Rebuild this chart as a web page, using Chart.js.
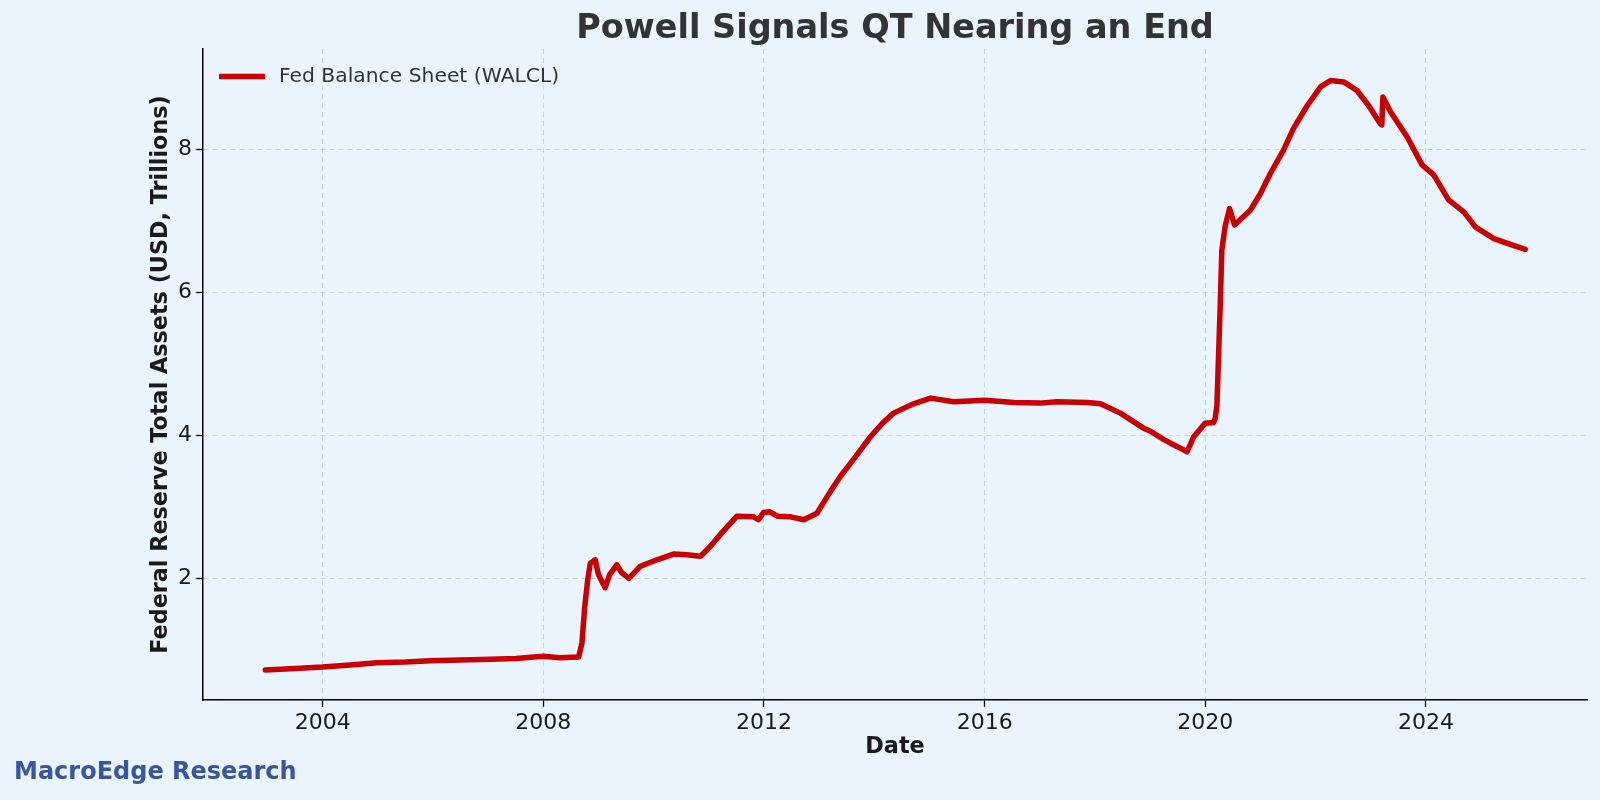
<!DOCTYPE html>
<html>
<head>
<meta charset="utf-8">
<script src="https://cdn.jsdelivr.net/npm/chart.js@4/dist/chart.umd.min.js"></script>
<style>
html,body{margin:0;padding:0;background:#eaf4ff;}
canvas{display:block;}
</style>
</head>
<body>
<canvas id="c" width="1600" height="800"></canvas>
<script>
// ---- data (decimal year, USD trillions) ----
const years = [
  2002.96, 2003.5, 2004.0, 2004.5, 2004.98, 2005.5, 2005.95, 2006.5, 2007.04, 2007.5, 2008.0, 2008.3, 2008.64,
  2008.70, 2008.75, 2008.80, 2008.85, 2008.94, 2009.0, 2009.12, 2009.2, 2009.33, 2009.42, 2009.55, 2009.76,
  2010.06, 2010.36, 2010.60, 2010.85, 2011.03, 2011.25, 2011.51, 2011.81, 2011.90, 2011.99, 2012.11, 2012.24,
  2012.48, 2012.72, 2012.96, 2013.20, 2013.38, 2013.62, 2013.93, 2014.15, 2014.35, 2014.71, 2015.02, 2015.44,
  2016.0, 2016.53, 2017.01, 2017.31, 2017.86, 2018.10, 2018.46, 2018.88, 2019.0, 2019.25, 2019.37, 2019.55, 2019.67,
  2019.79, 2020.0, 2020.15, 2020.18, 2020.21, 2020.24, 2020.27, 2020.30, 2020.36, 2020.44, 2020.53, 2020.82,
  2021.0, 2021.18, 2021.42, 2021.60, 2021.85, 2022.09, 2022.27, 2022.51, 2022.75, 2022.96, 2023.17, 2023.20,
  2023.22, 2023.36, 2023.66, 2023.93, 2024.14, 2024.41, 2024.69, 2024.90, 2025.23, 2025.53, 2025.80
];
const assets = [
  0.72, 0.74, 0.76, 0.79, 0.82, 0.83, 0.85, 0.86, 0.87, 0.88, 0.91, 0.89, 0.90,
  1.10, 1.60, 1.95, 2.21, 2.26, 2.05, 1.87, 2.05, 2.19, 2.08, 2.00, 2.17,
  2.26, 2.34, 2.33, 2.31, 2.45, 2.65, 2.87, 2.86, 2.82, 2.92, 2.93, 2.87,
  2.86, 2.82, 2.91, 3.21, 3.42, 3.66, 3.98, 4.17, 4.31, 4.44, 4.52, 4.47,
  4.49, 4.46, 4.45, 4.47, 4.46, 4.44, 4.31, 4.10, 4.06, 3.94, 3.89, 3.82, 3.77,
  3.98, 4.17, 4.18, 4.24, 4.40, 5.10, 5.80, 6.59, 6.92, 7.17, 6.94, 7.15,
  7.38, 7.66, 7.99, 8.29, 8.61, 8.87, 8.96, 8.94, 8.82, 8.61, 8.36, 8.34,
  8.73, 8.52, 8.17, 7.78, 7.64, 7.29, 7.12, 6.91, 6.75, 6.67, 6.60
];
const xTicks = [2004, 2008, 2012, 2016, 2020, 2024];
const yTicks = [2, 4, 6, 8];
const seriesLabel = "Fed Balance Sheet (WALCL)";
const titleText = "Powell Signals QT Nearing an End";
const xTitle = "Date";
const yTitle = "Federal Reserve Total Assets (USD, Trillions)";
const watermark = "MacroEdge Research";

const BG = "#eaf4ff";
const RED = "#c80000";
const FONT = "'DejaVu Sans', sans-serif";

const points = years.map((y, i) => ({x: y, y: assets[i]}));

const decor = {
  id: 'decor',
  beforeDraw(chart) {
    const ctx = chart.ctx;
    ctx.save();
    ctx.fillStyle = BG;
    ctx.fillRect(0, 0, chart.width, chart.height);
    ctx.restore();
  },
  afterDraw(chart) {
    const ctx = chart.ctx;
    const a = chart.chartArea;
    const cx = (a.left + a.right) / 2;
    ctx.save();
    // title
    ctx.fillStyle = "#333333";
    ctx.font = "bold 33.5px " + FONT;
    ctx.textAlign = "center";
    ctx.textBaseline = "middle";
    ctx.fillText(titleText, cx, 29.5);
    // x title
    ctx.fillStyle = "#1a1a1a";
    ctx.font = "bold 22.3px " + FONT;
    ctx.fillText(xTitle, cx, 747);
    // y title
    ctx.save();
    ctx.translate(161, (a.top + a.bottom) / 2);
    ctx.rotate(-Math.PI / 2);
    ctx.fillText(yTitle, 0, 0);
    ctx.restore();
    // legend
    const ds = chart.data.datasets[0];
    ctx.strokeStyle = ds.borderColor;
    ctx.lineWidth = 5.5;
    ctx.beginPath();
    ctx.moveTo(219, 76.5);
    ctx.lineTo(265, 76.5);
    ctx.stroke();
    ctx.fillStyle = "#333333";
    ctx.font = "20.3px " + FONT;
    ctx.textAlign = "left";
    ctx.fillText(ds.label, 279, 77);
    // watermark
    ctx.fillStyle = "#3a55a0";
    ctx.font = "bold 24px " + FONT;
    ctx.textAlign = "left";
    ctx.fillText(watermark, 14, 773);
    ctx.restore();
  }
};

new Chart(document.getElementById('c'), {
  type: 'line',
  data: {
    datasets: [{
      label: seriesLabel,
      data: points,
      borderColor: RED,
      borderWidth: 5.5,
      pointRadius: 0,
      fill: false,
      tension: 0,
      borderJoinStyle: 'round',
      borderCapStyle: 'round'
    }]
  },
  options: {
    responsive: false,
    animation: false,
    devicePixelRatio: 1,
    layout: {padding: {left: 0, right: 13, top: 49, bottom: 40}},
    plugins: {legend: {display: false}, title: {display: false}, tooltip: {enabled: false}},
    scales: {
      x: {
        type: 'linear',
        min: 2001.83,
        max: 2026.92,
        offset: false,
        afterBuildTicks(s) { s.ticks = xTicks.map(v => ({value: v})); },
        afterFit(s) { s.height = 60; },
        ticks: {
          color: "#1a1a1a",
          font: {family: FONT, size: 22},
          padding: 3,
          maxRotation: 0,
          autoSkip: false,
          callback: v => String(v)
        },
        grid: {
          color: "rgba(170,185,205,0.55)",
          lineWidth: 1,
          drawTicks: true,
          tickLength: 7,
          tickColor: "#000",
          tickWidth: 1.3
        },
        border: {display: true, color: "#000", width: 1.5, dash: [5, 4]}
      },
      y: {
        type: 'linear',
        min: 0.30,
        max: 9.40,
        afterBuildTicks(s) { s.ticks = yTicks.map(v => ({value: v})); },
        afterFit(s) { s.width = 203; },
        ticks: {
          color: "#1a1a1a",
          font: {family: FONT, size: 22},
          padding: 4,
          callback: v => String(v)
        },
        grid: {
          color: "rgba(170,185,205,0.55)",
          lineWidth: 1,
          drawTicks: true,
          tickLength: 7,
          tickColor: "#000",
          tickWidth: 1.3
        },
        border: {display: true, color: "#000", width: 1.5, dash: [5, 4]}
      }
    }
  },
  plugins: [decor]
});
</script>
</body>
</html>
